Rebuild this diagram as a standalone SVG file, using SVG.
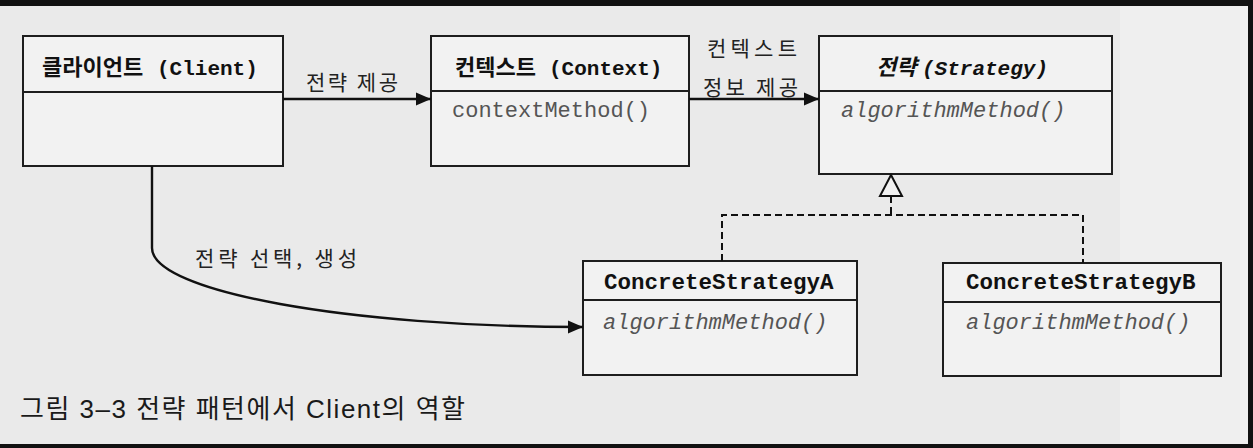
<svg xmlns="http://www.w3.org/2000/svg" width="1253" height="448" viewBox="0 0 1253 448">
<style>
.box{fill:#f2f2f2;stroke:#1e1e1e;stroke-width:2}
.div{stroke:#1e1e1e;stroke-width:2}
.ko{font-family:"Noto Sans CJK KR","Liberation Sans",sans-serif;font-weight:bold;font-size:22px;fill:#111}
.mb{font-family:"Liberation Mono",monospace;font-weight:bold;font-size:21px;fill:#111}
.mbi{font-family:"Liberation Mono",monospace;font-weight:bold;font-style:italic;font-size:21px;fill:#111}
.kobi{font-family:"Noto Sans CJK KR","Liberation Sans",sans-serif;font-weight:bold;font-style:italic;font-size:22px;fill:#111}
.m{font-family:"Liberation Mono",monospace;font-size:22px;fill:#555}
.mi{font-family:"Liberation Mono",monospace;font-style:italic;font-size:22px;fill:#555}
.mb2{font-family:"Liberation Mono",monospace;font-weight:bold;font-size:22.5px;fill:#111}
.lbl{font-family:"Noto Sans CJK KR","Liberation Sans",sans-serif;font-size:21px;fill:#222}
.cap{font-family:"Liberation Sans","Noto Sans CJK KR",sans-serif;font-size:26px;fill:#1a1a1a}
.conn{fill:none;stroke:#111;stroke-width:2.4}
.dash{fill:none;stroke:#111;stroke-width:2;stroke-dasharray:7 4}
</style>
<defs>
<marker id="arr" markerUnits="userSpaceOnUse" markerWidth="16" markerHeight="14" refX="15" refY="7" orient="auto">
<path d="M0,0.5 L15,7 L0,13.5 Z" fill="#111"/>
</marker>
</defs>
<rect x="0" y="0" width="1253" height="448" fill="#eaeaea"/>
<rect x="1120" y="6" width="128" height="438" fill="#efefef"/>
<rect x="0" y="0" width="1253" height="6" fill="#111"/>
<rect x="1248" y="0" width="5" height="448" fill="#111"/>
<rect x="0" y="444" width="1253" height="4" fill="#111"/>

<g id="client">
<rect class="box" x="23" y="36" width="260" height="130"/>
<line class="div" x1="23" y1="92" x2="283" y2="92"/>
<text y="75"><tspan class="ko" x="42">클라이언트</tspan><tspan class="mb" x="157">(Client)</tspan></text>
</g>

<g id="context">
<rect class="box" x="431" y="36" width="258" height="130"/>
<line class="div" x1="431" y1="91" x2="689" y2="91"/>
<text y="75"><tspan class="ko" x="455">컨텍스트</tspan><tspan class="mb" x="549">(Context)</tspan></text>
<text class="m" x="452" y="117">contextMethod()</text>
</g>

<g id="strategy">
<rect class="box" x="819" y="36" width="293" height="138"/>
<line class="div" x1="819" y1="91" x2="1112" y2="91"/>
<text y="75"><tspan class="kobi" x="876">전략</tspan><tspan class="mbi" x="922">(Strategy)</tspan></text>
<text class="mi" x="841" y="117">algorithmMethod()</text>
</g>

<g id="concreteA">
<rect class="box" x="583" y="261" width="274" height="114"/>
<line class="div" x1="583" y1="300" x2="857" y2="300"/>
<text class="mb2" x="604" y="289">ConcreteStrategyA</text>
<text class="mi" x="603" y="329">algorithmMethod()</text>
</g>

<g id="concreteB">
<rect class="box" x="943" y="263" width="278" height="113"/>
<line class="div" x1="943" y1="302" x2="1221" y2="302"/>
<text class="mb2" x="966" y="289">ConcreteStrategyB</text>
<text class="mi" x="966" y="329">algorithmMethod()</text>
</g>

<g id="connectors">
<line class="conn" x1="283" y1="99" x2="431" y2="99" marker-end="url(#arr)"/>
<line class="conn" x1="689" y1="99" x2="819" y2="99" marker-end="url(#arr)"/>
<path class="conn" d="M152,166 L152,248 C152,292 350,327 583,327" marker-end="url(#arr)"/>
<path class="dash" d="M891,196 L891,215"/>
<path class="dash" d="M722,261 L722,215 L1083,215 L1083,263"/>
<path d="M891,175 L880,196 L902,196 Z" fill="#f2f2f2" stroke="#111" stroke-width="2"/>
<text class="lbl" x="306" y="90" textLength="92" lengthAdjust="spacing">전략 제공</text>
<text class="lbl" x="707" y="56" textLength="90" lengthAdjust="spacing">컨텍스트</text>
<text class="lbl" x="703" y="95" textLength="95" lengthAdjust="spacing">정보 제공</text>
<text class="lbl" x="195" y="266" textLength="162" lengthAdjust="spacing">전략 선택, 생성</text>
</g>

<text class="cap" x="20" y="418" textLength="445" lengthAdjust="spacing">그림 3–3 전략 패턴에서 Client의 역할</text>
</svg>
